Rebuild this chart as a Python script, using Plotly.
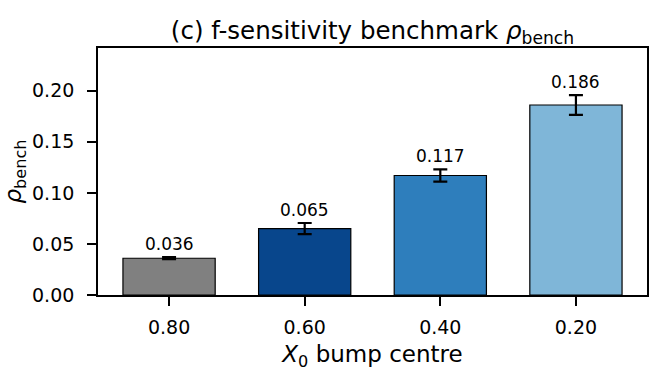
import plotly.graph_objects as go

categories = ["0.80", "0.60", "0.40", "0.20"]
values = [0.036, 0.065, 0.117, 0.186]
errors = [0.001, 0.0055, 0.006, 0.0097]
value_labels = ["0.036", "0.065", "0.117", "0.186"]
colors = ["#808080", "#08468c", "#2e7ebc", "#7fb6d8"]

xpos = list(range(len(categories)))
FONT = "DejaVu Sans"

W, H = 661, 372

fig = go.Figure()
fig.add_trace(go.Bar(
    x=xpos, y=values, width=0.68,
    marker=dict(color=colors, line=dict(color="black", width=1.2)),
    error_y=dict(type="data", array=errors, visible=True, color="black",
                 thickness=2.2, width=7),
    showlegend=False,
))

for xi, v, e, lab in zip(xpos, values, errors, value_labels):
    fig.add_annotation(x=xi, y=v + e, text=lab, showarrow=False,
                       yanchor="bottom", yshift=1,
                       font=dict(family=FONT, size=17, color="black"))

fig.update_layout(
    width=W, height=H,
    margin=dict(l=98, r=14, t=48, b=77, autoexpand=False),
    paper_bgcolor="white", plot_bgcolor="white",
    font=dict(family=FONT, color="black"),
    title=dict(text="(c) f-sensitivity benchmark <i>ρ</i><sub>bench</sub>",
               x=0.5, xref="paper", y=0.918, yref="container",
               xanchor="center", yanchor="middle",
               font=dict(family=FONT, size=24.5, color="black")),
)
fig.update_xaxes(
    range=[-0.524, 3.524], tickvals=xpos, ticktext=categories,
    automargin=False,
    showline=True, linecolor="black", linewidth=1.7, mirror=True,
    ticks="outside", ticklen=9, tickwidth=1.7, tickcolor="black",
    ticklabelstandoff=5,
    showgrid=False, zeroline=False,
    tickfont=dict(family=FONT, size=19, color="black"),
    title=dict(text="<i>X</i><sub>0</sub> bump centre",
               font=dict(family=FONT, size=23, color="black"), standoff=9),
)
fig.update_yaxes(
    range=[0, 0.2418], tickvals=[0, 0.05, 0.10, 0.15, 0.20],
    tickformat=".2f", automargin=False,
    showline=True, linecolor="black", linewidth=1.7, mirror=True,
    ticks="outside", ticklen=9, tickwidth=1.7, tickcolor="black",
    ticklabelstandoff=9,
    showgrid=False, zeroline=False,
    tickfont=dict(family=FONT, size=19, color="black"),
    title=dict(text="<i>ρ</i><sub>bench</sub>",
               font=dict(family=FONT, size=23, color="black"), standoff=20),
)

# remove the browser's default 8px body margin so the figure fills the window
fig.write_html("out.html", config={"displayModeBar": False},
               post_script="document.body.style.margin='0';")
